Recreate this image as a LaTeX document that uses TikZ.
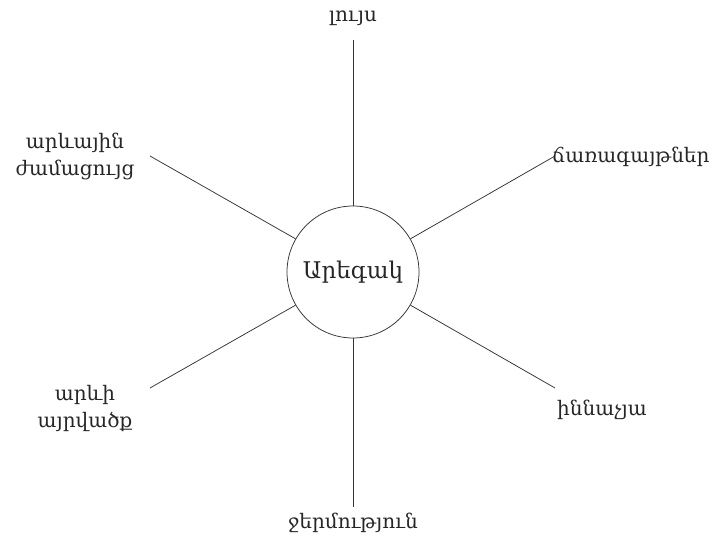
\documentclass[tikz,border=0pt]{standalone}
\usepackage{fontspec}
\setmainfont{DejaVu Serif}
\begin{document}
\begin{tikzpicture}[x=1pt,y=-1pt,
  lbl/.style={font=\fontsize{20}{27}\selectfont, text=black!85, inner sep=0pt, align=center},
  spoke/.style={draw=black!80, line width=0.75pt}]
\useasboundingbox (0,0) rectangle (717,537);
\node[circle, draw=black!80, line width=0.75pt, minimum size=132pt, inner sep=0pt,
      font=\fontsize{23}{26}\selectfont, text=black!85] (c) at (353,272) {Արեգակ};
\coordinate (eT) at (353,40);
\coordinate (eB) at (353,507);
\coordinate (eUR) at (555,156);
\coordinate (eLR) at (555,388);
\coordinate (eUL) at (150,156);
\coordinate (eLL) at (150,388);
\draw[spoke] (c.90) -- (eT);
\draw[spoke] (c.270) -- (eB);
\draw[spoke] (c.30) -- (eUR);
\draw[spoke] (c.-30) -- (eLR);
\draw[spoke] (c.150) -- (eUL);
\draw[spoke] (c.210) -- (eLL);
\node[lbl] (lT) at (353,18) {լույս};
\node[lbl] (lB) at (353,523) {ջերմություն};
\node[lbl, anchor=west] (lUR) at (552,157) {ճառագայթներ};
\node[lbl, anchor=west] (lLR) at (557,410) {իննաչյա};
\node[lbl] (lUL) at (75,156) {արևային\\ժամացույց};
\node[lbl] (lLL) at (85,408) {արևի\\այրվածք};
\end{tikzpicture}
\end{document}
